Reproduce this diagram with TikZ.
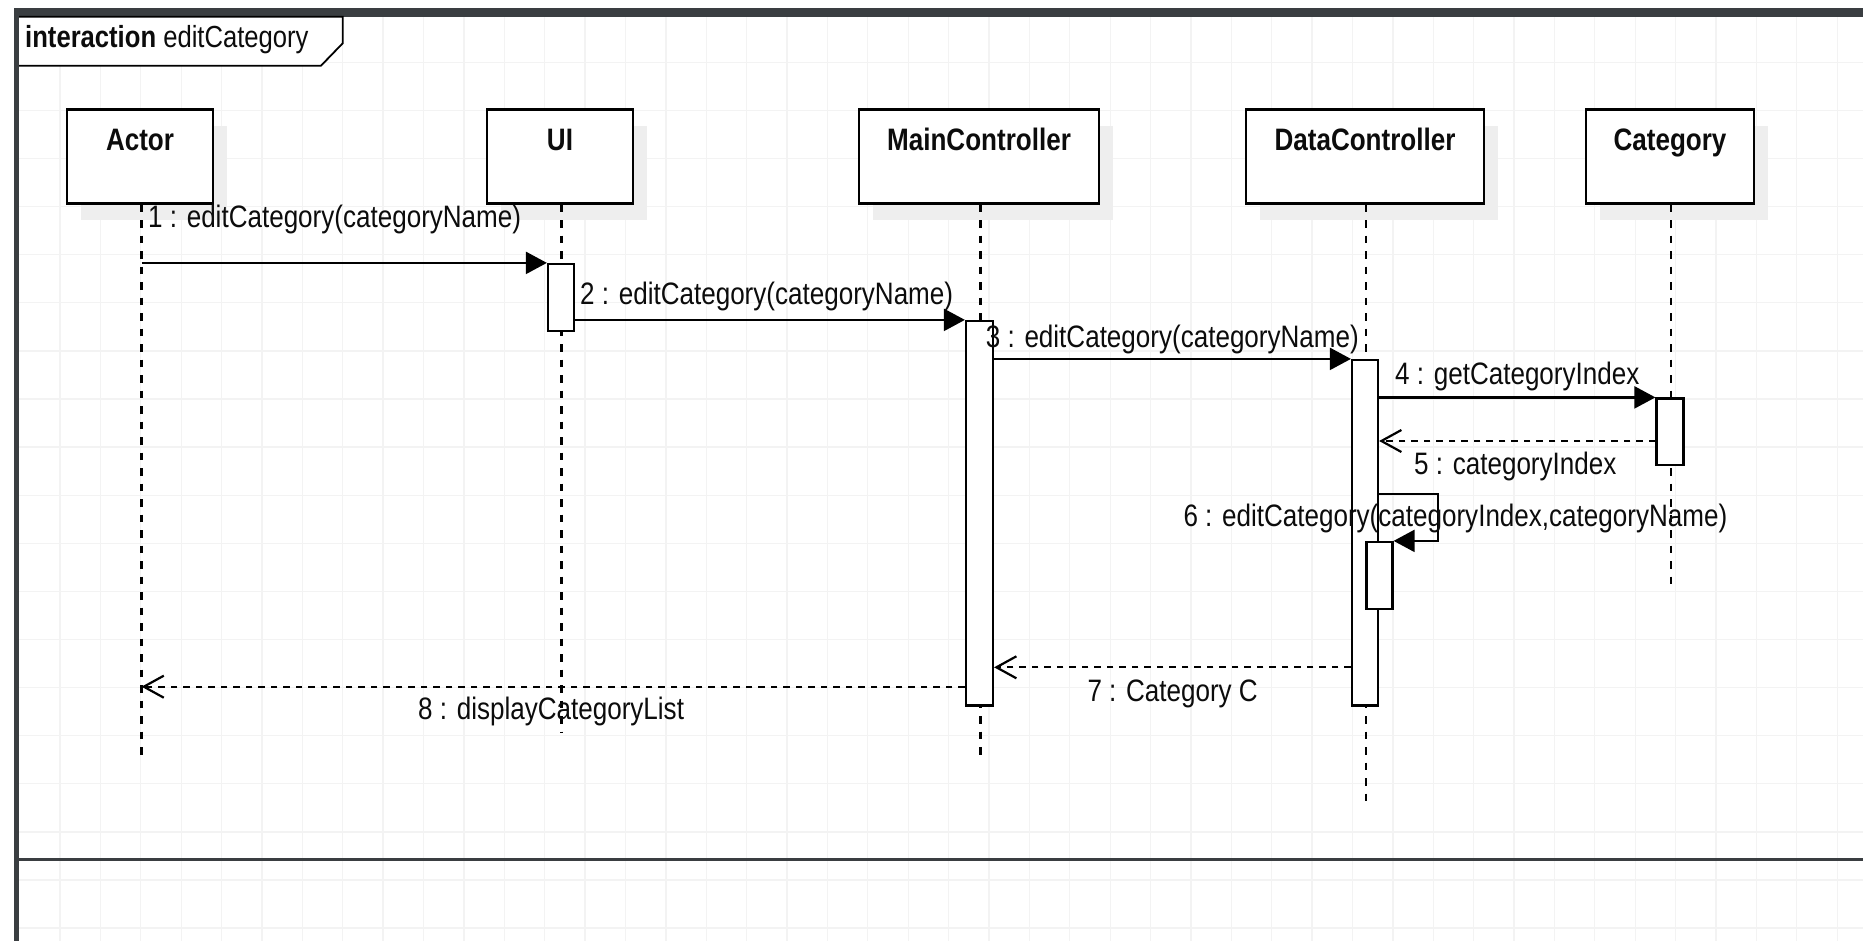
\documentclass[tikz,border=0pt]{standalone}
\usepackage{fontspec}
\setmainfont{Liberation Sans}[FakeStretch=0.84]
\usetikzlibrary{arrows.meta,shadows}
\definecolor{gridc}{RGB}{243,243,243}
\definecolor{framec}{RGB}{58,62,65}
\definecolor{shadowc}{RGB}{238,238,238}
\definecolor{txtc}{RGB}{12,12,12}
\begin{document}
\begin{tikzpicture}[x=1pt,y=-1pt,
  hdr/.style={draw=black, line width=2.6pt, fill=white, inner sep=0pt, minimum height=94pt,
     general shadow={fill=shadowc, shadow xshift=14pt, shadow yshift=-17pt}},
  hdrtext/.style={anchor=base, font=\fontsize{31}{37}\selectfont\bfseries, text=txtc, inner sep=0pt},
  act/.style={draw=black, line width=2.2pt, fill=white, inner sep=0pt},
  lifeline/.style={draw=black, line width=2.2pt, dash pattern=on 7.5pt off 8pt},
  msg/.style={draw=black, line width=2.2pt, -{Triangle[length=21pt,width=22pt]}},
  ret/.style={draw=black, line width=2.2pt, dash pattern=on 6.5pt off 6pt, -{Straight Barb[length=20pt,width=22pt]}},
  mlabel/.style={anchor=base west, font=\fontsize{31}{37}\selectfont, text=txtc, inner sep=0pt},
  gridline/.style={draw=gridc, line width=1.3pt}
]
\useasboundingbox (0,0) rectangle (1863,941);
\clip (0,0) rectangle (1863,941);
\fill[white] (0,0) rectangle (1863,941);
% grid
\foreach \k in {0,...,44} \draw[gridline] ({60+40.39*\k},16) -- ({60+40.39*\k},941);
\foreach \k in {0,...,18} \draw[gridline] (19,{62.3+48.1*\k}) -- (1863,{62.3+48.1*\k});
% frame
\fill[framec] (14,8) rectangle (1863,16.7);
\fill[framec] (14,8) rectangle (19,941);
\fill[framec] (19,857.5) rectangle (1863,860.5);
\draw[black, line width=1.8pt, fill=white] (19,16.7) -- (342.7,16.7) -- (342.7,43.3) -- (321,65.7) -- (19,65.7);
\node[anchor=base west, inner sep=0pt, text=txtc, font=\fontsize{30.5}{36}\selectfont] (title) at (25,47.5) {\textbf{interaction} editCategory};

% headers
\node[hdr, minimum width=146pt] (actor) at (140,156.3) {};
\node[hdr, minimum width=146pt] (ui) at (560,156.3) {};
\node[hdr, minimum width=240pt] (main) at (979,156.3) {};
\node[hdr, minimum width=238pt] (data) at (1365,156.3) {};
\node[hdr, minimum width=168pt] (cat) at (1670,156.3) {};
\node[hdrtext] (actorT) at (140,151) {Actor};
\node[hdrtext] (uiT) at (560,151) {UI};
\node[hdrtext] (mainT) at (979,151) {MainController};
\node[hdrtext] (dataT) at (1365,151) {DataController};
\node[hdrtext] (catT) at (1670,151) {Category};

% lifelines
\coordinate (actorEnd) at (141.5,757);
\coordinate (uiEnd) at (561.5,731.7);
\coordinate (mainEnd) at (980.5,757);
\coordinate (dataEnd) at (1366,802);
\coordinate (catEnd) at (1671,588);
\draw[lifeline] (actorEnd |- actor.south) -- (actorEnd);
\draw[lifeline] (uiEnd |- ui.south) -- (uiEnd);
\draw[lifeline] (mainEnd |- main.south) -- (mainEnd);
\draw[lifeline] (dataEnd |- data.south) -- (dataEnd);
\draw[lifeline] (catEnd |- cat.south) -- (catEnd);

% activations
\node[act, minimum width=26pt, minimum height=67pt] (uiact) at (561,297.5) {};
\node[act, minimum width=27pt, minimum height=384.5pt] (mainact) at (979.5,513.25) {};
\node[act, minimum width=26pt, minimum height=345.5pt] (dataact) at (1365,532.75) {};
\node[act, minimum width=27pt, minimum height=66.5pt] (catact) at (1670,431.75) {};
\node[act, minimum width=26pt, minimum height=67pt] (nestact) at (1379.5,575.5) {};

% messages
\draw[msg] (actorEnd |- uiact.north) -- (uiact.north west);
\draw[msg] (uiact.east |- mainact.north) -- (mainact.north west);
\draw[msg] (mainact.east |- dataact.north) -- (dataact.north west);
\draw[msg] (dataact.east |- catact.north) -- (catact.north west);
\coordinate (m5) at (0,441);
\draw[ret] (catact.west |- m5) -- (dataact.east |- m5);
\coordinate (m6t) at (0,494);
\coordinate (m6r) at (1438.3,0);
\draw[msg] (dataact.east |- m6t) -- (m6r |- m6t) -- (m6r |- nestact.north) -- (nestact.north east);
\coordinate (m7) at (0,667.3);
\draw[ret] (dataact.west |- m7) -- (mainact.east |- m7);
\coordinate (m8) at (0,686.7);
\draw[ret] (mainact.west |- m8) -- (actorEnd |- m8);

% labels
\node[mlabel] (l1) at (148,227.5) {1 : editCategory(categoryName)};
\node[mlabel] (l2) at (580,305) {2 : editCategory(categoryName)};
\node[mlabel] (l3) at (985.7,347) {3 : editCategory(categoryName)};
\node[mlabel] (l4) at (1395,384) {4 : getCategoryIndex};
\node[mlabel] (l5) at (1414,474.5) {5 : categoryIndex};
\node[mlabel] (l6) at (1183.3,526) {6 : editCategory(categoryIndex,categoryName)};
\node[mlabel] (l7) at (1087.3,701.5) {7 : Category C};
\node[mlabel] (l8) at (418,719.5) {8 : displayCategoryList};
\end{tikzpicture}
\end{document}
